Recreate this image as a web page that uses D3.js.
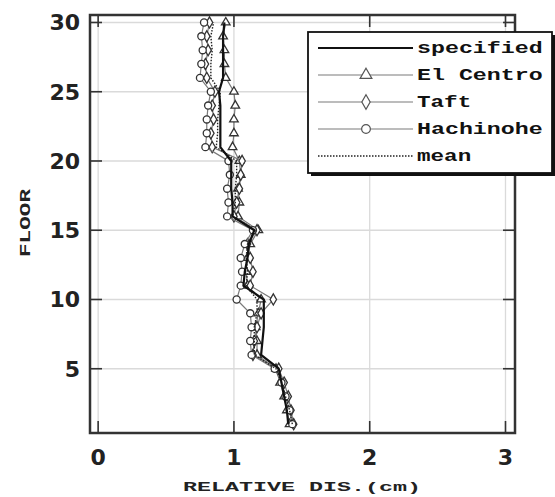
<!DOCTYPE html>
<html>
<head>
<meta charset="utf-8">
<script src="https://cdn.jsdelivr.net/npm/d3@7"></script>
<style>
  body { margin: 0; background: #fff; }
  svg { display: block; }
</style>
</head>
<body>
<script>
// floors 1..30, relative storey displacement in cm
var floors = [1,2,3,4,5,6,7,8,9,10,11,12,13,14,15,16,17,18,19,20,21,22,23,24,25,26,27,28,29,30];

var specified = [1.40,1.39,1.37,1.35,1.33, 1.20,1.21,1.22,1.22,1.22, 1.07,1.08,1.10,1.11,1.15,
                 0.99,0.99,0.98,0.98,0.98, 0.90,0.90,0.90,0.90,0.89, 0.92,0.92,0.92,0.92,0.93];
var elCentro  = [1.41,1.39,1.37,1.34,1.31, 1.17,1.17,1.16,1.18,1.20, 1.10,1.09,1.10,1.12,1.18,
                 1.03,1.04,1.03,1.05,1.04, 0.99,1.00,1.00,1.01,1.00, 0.94,0.93,0.93,0.92,0.94];
var taft      = [1.44,1.42,1.40,1.37,1.33, 1.14,1.15,1.17,1.20,1.29, 1.12,1.14,1.12,1.10,1.17,
                 1.00,1.02,1.04,1.05,1.06, 0.84,0.83,0.85,0.84,0.86, 0.80,0.79,0.81,0.80,0.82];
var hachinohe = [1.43,1.41,1.38,1.35,1.30, 1.13,1.12,1.13,1.12,1.02, 1.05,1.06,1.05,1.08,1.14,
                 0.95,0.96,0.95,0.97,0.96, 0.79,0.80,0.80,0.81,0.83, 0.75,0.76,0.77,0.76,0.78];
var mean      = [1.43,1.41,1.38,1.35,1.31, 1.15,1.15,1.15,1.17,1.17, 1.09,1.10,1.09,1.10,1.16,
                 0.99,1.01,1.01,1.02,1.02, 0.87,0.88,0.88,0.89,0.90, 0.83,0.83,0.84,0.83,0.85];

var xTicks = [0, 1, 2, 3];
var yTicks = [5, 10, 15, 20, 25, 30];
var legendLabels = ["specified", "El Centro", "Taft", "Hachinohe", "mean"];

var W = 555, H = 497;
var box = {left: 90, right: 515, top: 15, bottom: 433};

var svg = d3.select('body').append('svg')
  .attr('width', W)
  .attr('height', H);

var x = d3.scaleLinear().domain([-0.06, 3.07]).range([box.left, box.right]);
var y = d3.scaleLinear().domain([0.36, 30.54]).range([box.bottom, box.top]);

// grid
var grid = svg.append('g').attr('stroke', '#dadada').attr('stroke-width', 1.3);
grid.selectAll('.gx').data(xTicks).enter().append('line')
  .attr('x1', d => x(d)).attr('x2', d => x(d))
  .attr('y1', box.top).attr('y2', box.bottom);
grid.selectAll('.gy').data(yTicks).enter().append('line')
  .attr('x1', box.left).attr('x2', box.right)
  .attr('y1', d => y(d)).attr('y2', d => y(d));

// marker shapes
var sym = {
  tri: d3.symbol().type(d3.symbolTriangle).size(32),
  dia: d3.symbol().type(d3.symbolDiamond).size(36),
  cir: d3.symbol().type(d3.symbolCircle).size(40)
};

var series = [
  {name: 'El Centro', vals: elCentro, shape: 'tri'},
  {name: 'Taft', vals: taft, shape: 'dia'},
  {name: 'Hachinohe', vals: hachinohe, shape: 'cir'}
];

var line = d3.line()
  .x(d => x(d[1]))
  .y(d => y(d[0]));

series.forEach(function(s) {
  var pts = floors.map((f, i) => [f, s.vals[i]]);
  svg.append('path')
    .attr('d', line(pts))
    .attr('fill', 'none')
    .attr('stroke', '#7a7a7a')
    .attr('stroke-width', 1.2);
  svg.selectAll(null).data(pts).enter().append('path')
    .attr('d', sym[s.shape]())
    .attr('transform', d => 'translate(' + x(d[1]) + ',' + y(d[0]) + ')')
    .attr('fill', '#fff')
    .attr('stroke', '#333')
    .attr('stroke-width', 1.3);
});

svg.append('path')
  .attr('d', line(floors.map((f, i) => [f, mean[i]])))
  .attr('fill', 'none')
  .attr('stroke', '#222')
  .attr('stroke-width', 1.4)
  .attr('stroke-dasharray', '1.5,1.5');

svg.append('path')
  .attr('d', line(floors.map((f, i) => [f, specified[i]])))
  .attr('fill', 'none')
  .attr('stroke', '#111')
  .attr('stroke-width', 2.2);

// frame
svg.append('rect')
  .attr('x', box.left).attr('y', box.top)
  .attr('width', box.right - box.left).attr('height', box.bottom - box.top)
  .attr('fill', 'none')
  .attr('stroke', '#333')
  .attr('stroke-width', 2.5);

// inner ticks on all four sides
var tk = 12;
var ticks = svg.append('g').attr('stroke', '#333').attr('stroke-width', 1.6);
ticks.selectAll('.tb').data(xTicks).enter().append('line')
  .attr('x1', d => x(d)).attr('x2', d => x(d))
  .attr('y1', box.bottom).attr('y2', box.bottom - tk);
ticks.selectAll('.tt').data(xTicks).enter().append('line')
  .attr('x1', d => x(d)).attr('x2', d => x(d))
  .attr('y1', box.top).attr('y2', box.top + tk);
ticks.selectAll('.tl').data(yTicks).enter().append('line')
  .attr('x1', box.left).attr('x2', box.left + tk)
  .attr('y1', d => y(d)).attr('y2', d => y(d));
ticks.selectAll('.tr').data(yTicks).enter().append('line')
  .attr('x1', box.right).attr('x2', box.right - tk)
  .attr('y1', d => y(d)).attr('y2', d => y(d));

// tick labels
var tickFont = "'DejaVu Sans', sans-serif";
svg.selectAll('.xl').data(xTicks).enter().append('text')
  .attr('x', d => x(d)).attr('y', 465)
  .attr('text-anchor', 'middle')
  .style('font-family', tickFont).style('font-weight', 'bold').style('font-size', '22px')
  .attr('fill', '#222')
  .text(d => d);
svg.selectAll('.yl').data(yTicks).enter().append('text')
  .attr('x', 80).attr('y', d => y(d) + 8)
  .attr('text-anchor', 'end')
  .style('font-family', tickFont).style('font-weight', 'bold').style('font-size', '22px')
  .attr('fill', '#222')
  .text(d => d);

// axis titles
var mono = "'Liberation Mono', 'DejaVu Sans Mono', monospace";
svg.append('text')
  .attr('x', 183).attr('y', 491)
  .attr('textLength', 238).attr('lengthAdjust', 'spacingAndGlyphs')
  .style('font-family', mono).style('font-weight', 'bold').style('font-size', '13px')
  .attr('fill', '#222')
  .text('RELATIVE DIS.(cm)');
svg.append('text')
  .attr('transform', 'translate(30,257) rotate(-90)')
  .attr('textLength', 68).attr('lengthAdjust', 'spacingAndGlyphs')
  .style('font-family', mono).style('font-weight', 'bold').style('font-size', '14px')
  .attr('fill', '#222')
  .text('FLOOR');

// legend
var lg = {x: 308, y: 32, w: 244, h: 141};
svg.append('rect')
  .attr('x', lg.x + 3).attr('y', lg.y + 3).attr('width', lg.w).attr('height', lg.h)
  .attr('fill', '#111');
svg.append('rect')
  .attr('x', lg.x).attr('y', lg.y).attr('width', lg.w).attr('height', lg.h)
  .attr('fill', '#fff').attr('stroke', '#111').attr('stroke-width', 1.8);

var legendStyle = [
  {stroke: '#111', width: 2.2, dash: null, shape: null},
  {stroke: '#7a7a7a', width: 1.2, dash: null, shape: 'tri'},
  {stroke: '#7a7a7a', width: 1.2, dash: null, shape: 'dia'},
  {stroke: '#7a7a7a', width: 1.2, dash: null, shape: 'cir'},
  {stroke: '#222', width: 1.4, dash: '1.5,1.5', shape: null}
];

var rows = svg.selectAll('.lrow').data(legendLabels).enter().append('g')
  .attr('transform', (d, i) => 'translate(0,' + (48 + i * 27) + ')');
rows.append('line')
  .attr('x1', 318).attr('x2', 413).attr('y1', 0).attr('y2', 0)
  .attr('stroke', (d, i) => legendStyle[i].stroke)
  .attr('stroke-width', (d, i) => legendStyle[i].width)
  .attr('stroke-dasharray', (d, i) => legendStyle[i].dash);
rows.filter((d, i) => legendStyle[i].shape)
  .append('path')
  .attr('d', function(d) {
    var i = legendLabels.indexOf(d);
    return d3.symbol().type(legendStyle[i].shape === 'tri' ? d3.symbolTriangle :
      legendStyle[i].shape === 'dia' ? d3.symbolDiamond : d3.symbolCircle).size(60)();
  })
  .attr('transform', 'translate(366,0)')
  .attr('fill', '#fff').attr('stroke', '#555').attr('stroke-width', 1.2);
rows.append('text')
  .attr('x', 417).attr('y', 5)
  .attr('textLength', d => d.length * 14.3 - 3).attr('lengthAdjust', 'spacingAndGlyphs')
  .style('font-family', mono).style('font-weight', 'bold').style('font-size', '17px')
  .attr('fill', '#111')
  .text(d => d);
</script>
</body>
</html>
